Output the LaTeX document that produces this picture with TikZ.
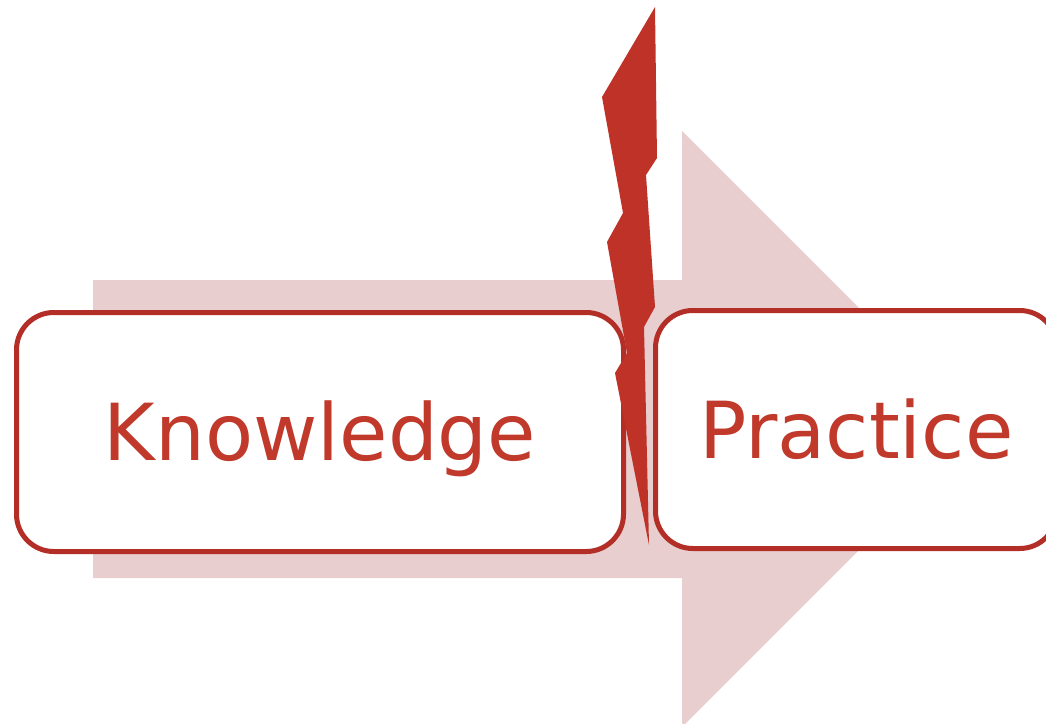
\documentclass[tikz,border=0pt]{standalone}
\usepackage{fontspec}
\setmainfont{DejaVu Sans}
\definecolor{arrowpink}{RGB}{232,206,206}
\definecolor{boxred}{RGB}{178,46,38}
\definecolor{textred}{RGB}{192,57,43}
\definecolor{boltred}{RGB}{190,50,40}
\tikzset{
  stage/.style={draw=boxred, line width=3.75pt, fill=white,
    rounded corners=28pt, text=textred, inner sep=0pt,
    font=\fontsize{59}{70}\selectfont, text height=43pt, text depth=0pt},
}
\begin{document}
\begin{tikzpicture}[x=0.75pt,y=-0.75pt]
  \useasboundingbox (0,0) rectangle (1046,724);
  \clip (0,0) rectangle (1046,724);
  % broad background arrow
  \fill[arrowpink] (93,280) -- (682,280) -- (682,131) -- (980,429)
    -- (682,727) -- (682,578) -- (93,578) -- cycle;
  % the two stages
  \node[stage, minimum width=455.25pt, minimum height=179.25pt]
    (know) at (320,432) {Knowledge};
  \node[stage, minimum width=301.1pt, minimum height=178.5pt]
    (prac) at (856.25,429.5) {Practice};
  % lightning bolt splitting the two stages
  \fill[boltred] (655,7) -- (657,158) -- (646,175) -- (655,307) -- (644,327)
    -- (649,545) -- (615,373) -- (627,353) -- (607,242) -- (623,213)
    -- (602,97) -- cycle;
\end{tikzpicture}
\end{document}
